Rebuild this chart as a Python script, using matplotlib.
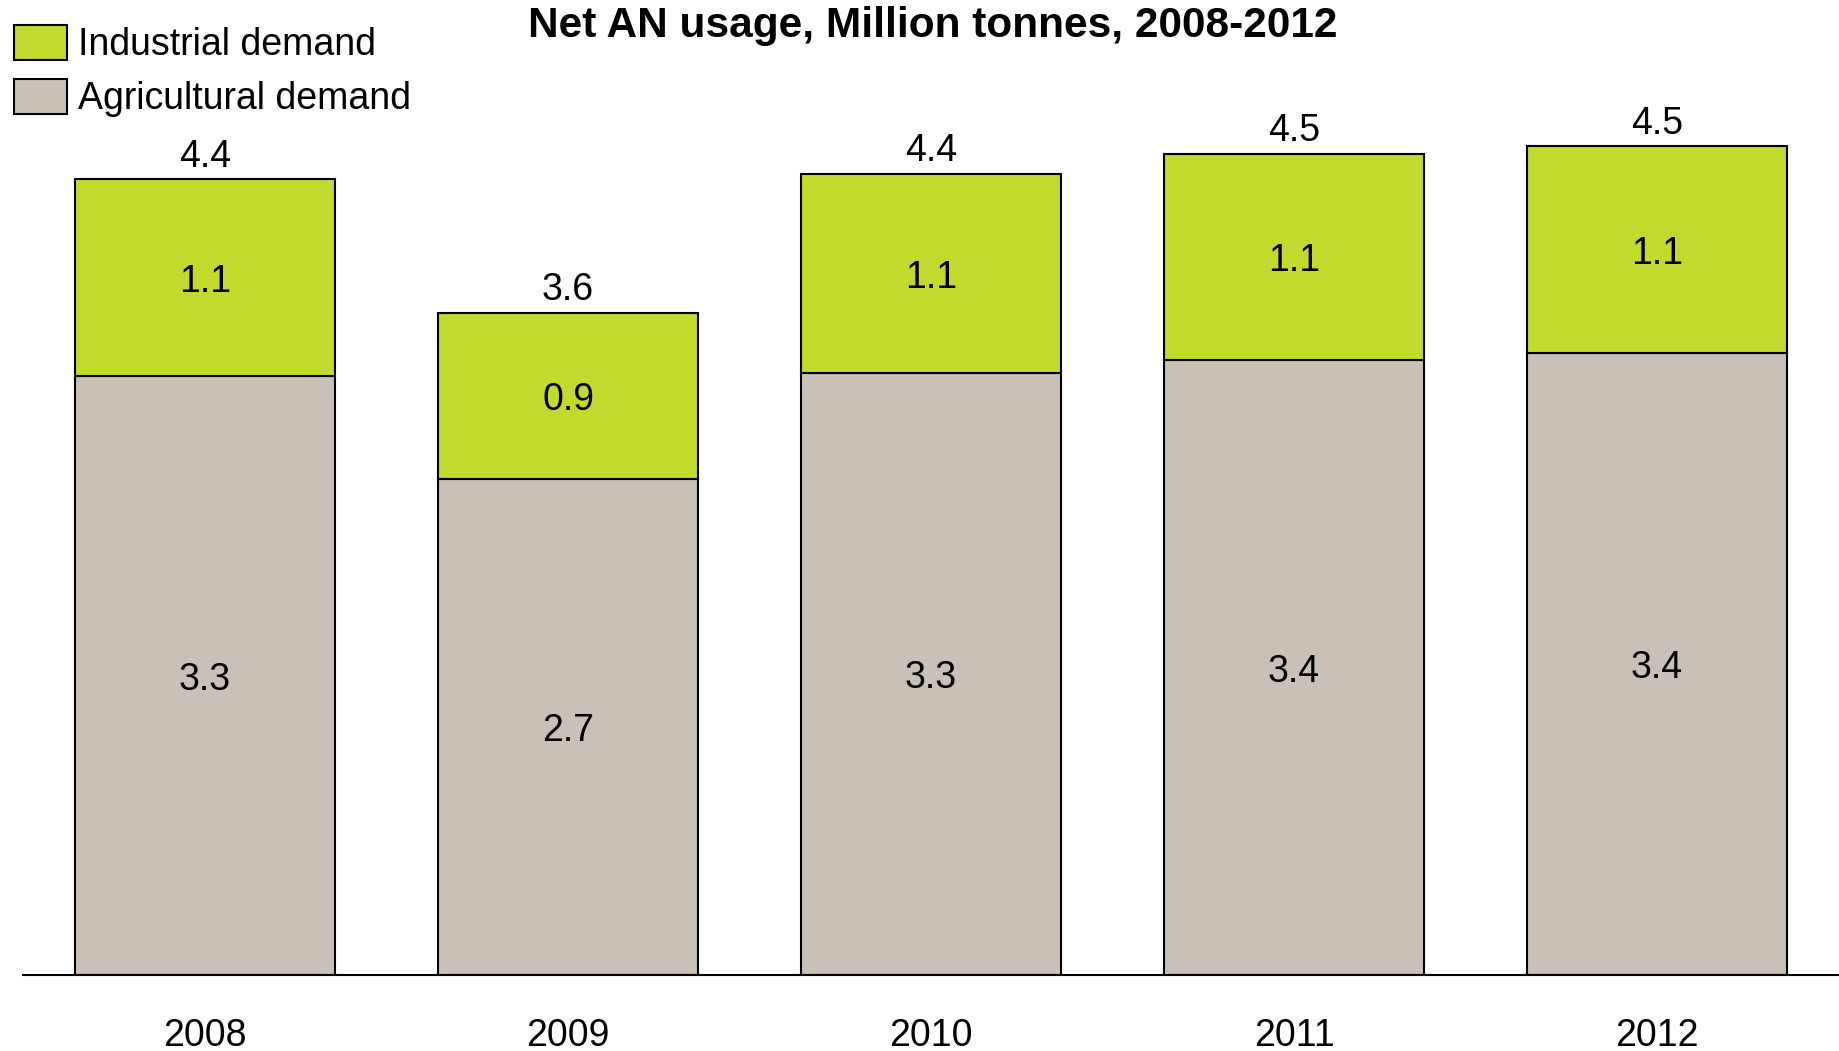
import matplotlib
matplotlib.use("Agg")
import matplotlib.pyplot as plt
from matplotlib.patches import Patch

years = ["2008", "2009", "2010", "2011", "2012"]
agricultural = [3.28, 2.72, 3.30, 3.37, 3.41]
industrial = [1.08, 0.91, 1.09, 1.13, 1.13]
series_names = ["Industrial demand", "Agricultural demand"]
title = "Net AN usage, Million tonnes, 2008-2012"

green = "#C2D92E"
grey = "#C9C1B8"
plt.rcParams["font.family"] = ["Liberation Sans", "DejaVu Sans"]

W, H = 1839, 1051
fig = plt.figure(figsize=(W / 100, H / 100), dpi=100)
base_px = 975
left_px = 23
ax = fig.add_axes([left_px / W, (H - base_px) / H, (W - left_px) / W, base_px / H])

x = list(range(len(years)))
bw = 260 / 363
ax.bar(x, agricultural, width=bw, color=grey, edgecolor="black", linewidth=1.5, zorder=2)
ax.bar(x, industrial, width=bw, bottom=agricultural, color=green, edgecolor="black",
       linewidth=1.5, zorder=2)

fs = 27
for i in x:
    a = agricultural[i]
    d = industrial[i]
    ax.annotate(f"{a:.1f}", (i, a / 2), xytext=(0, -3.3), textcoords="offset points",
                ha="center", va="center", fontsize=fs)
    ax.annotate(f"{d:.1f}", (i, a + d / 2), xytext=(0, -3.3), textcoords="offset points",
                ha="center", va="center", fontsize=fs)
    ax.annotate(f"{a + d:.1f}", (i, a + d), xytext=(0, 9), textcoords="offset points",
                ha="center", va="baseline", fontsize=fs)

ax.set_xlim(-(205 - left_px) / 363, 4 + 182 / 363)
ax.set_ylim(0, base_px / 182.5)
ax.set_xticks(x)
ax.set_xticklabels(years, fontsize=fs)
ax.tick_params(axis="x", length=0, pad=31)
ax.set_yticks([])
for s in ["top", "right", "left"]:
    ax.spines[s].set_visible(False)
ax.spines["bottom"].set_linewidth(1.5)

fig.text(933 / W, 1 - 26 / H, title, ha="center", va="center", fontsize=30.5, fontweight="bold")

handles = [Patch(facecolor=green, edgecolor="black", linewidth=1.5),
           Patch(facecolor=grey, edgecolor="black", linewidth=1.5)]
fig.legend(handles, series_names, loc="upper left", bbox_to_anchor=(14 / W, 1 - 25 / H),
           frameon=False, fontsize=27, handlelength=1.41, handleheight=1.06,
           handletextpad=0.3, labelspacing=0.42, borderpad=0, borderaxespad=0)

fig.savefig("out.png", dpi=100)
